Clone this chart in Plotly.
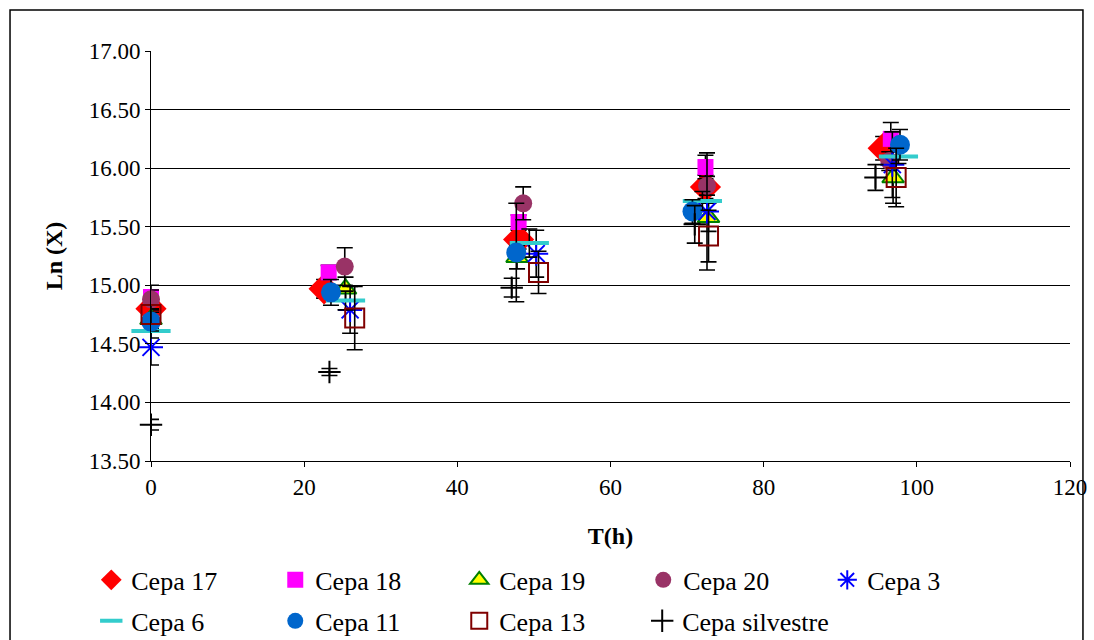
import plotly.graph_objects as go

names = ["Cepa 17", "Cepa 18", "Cepa 19", "Cepa 20", "Cepa 3",
         "Cepa 6", "Cepa 11", "Cepa 13", "Cepa silvestre"]

x_c17 = [0, 22.6, 48.0, 72.4, 95.6]
y_c17 = [14.80, 14.97, 15.39, 15.84, 16.17]
e_c17 = [0.10, 0.08, 0.08, 0.10, 0.10]

x_c18 = [0, 23.2, 48.0, 72.4, 96.6]
y_c18 = [14.90, 15.11, 15.54, 16.01, 16.25]
e_c18 = [0.10, 0.06, 0.06, 0.10, 0.14]

x_c19 = [0, 25.4, 47.8, 72.8, 96.9]
y_c19 = [14.71, 14.97, 15.24, 15.58, 15.92]
e_c19 = [0.08, 0.10, 0.10, 0.12, 0.22]

x_c20 = [0, 25.3, 48.6, 72.6, 96.4]
y_c20 = [14.88, 15.16, 15.70, 15.85, 16.06]
e_c20 = [0.08, 0.16, 0.14, 0.08, 0.08]

x_c3 = [0, 26.0, 50.3, 72.6, 96.8]
y_c3 = [14.47, 14.79, 15.27, 15.63, 16.03]
e_c3 = [0.15, 0.20, 0.20, 0.50, 0.28]

x_c6 = [0, 25.4, 49.4, 72.0, 97.6]
y_c6 = [14.61, 14.87, 15.36, 15.72, 16.10]
e_c6 = [0.06, 0.08, 0.12, 0.08, 0.06]

x_c11 = [0, 23.5, 47.7, 70.7, 97.8]
y_c11 = [14.69, 14.94, 15.28, 15.63, 16.20]
e_c11 = [0.08, 0.11, 0.42, 0.10, 0.13]

x_c13 = [0, 26.6, 50.6, 72.8, 97.3]
y_c13 = [14.75, 14.72, 15.11, 15.42, 15.92]
e_c13 = [0.08, 0.27, 0.18, 0.22, 0.25]

x_sil = [0, 23.3, 47.1, 71.0, 94.6]
y_sil = [13.81, 14.26, 14.98, 15.52, 15.92]
e_sil = [0.045, 0.03, 0.08, 0.16, 0.11]

x_ticks = [0, 20, 40, 60, 80, 100, 120]
y_ticks = [13.5, 14.0, 14.5, 15.0, 15.5, 16.0, 16.5, 17.0]

series = [
    (x_c17, y_c17, e_c17, dict(symbol="diamond", size=24, color="#FF0000")),
    (x_c18, y_c18, e_c18, dict(symbol="square", size=16, color="#FF00FF")),
    (x_c19, y_c19, e_c19, dict(symbol="triangle-up", size=19, color="#FFFF00",
                               line=dict(color="#008000", width=2))),
    (x_c20, y_c20, e_c20, dict(symbol="circle", size=18, color="#993366")),
    (x_c3, y_c3, e_c3, dict(symbol="asterisk-open", size=20, color="#0000FF",
                            line=dict(color="#0000FF", width=2))),
    (x_c6, y_c6, e_c6, dict(symbol="line-ew-open", size=28, color="#33CCCC",
                            line=dict(color="#33CCCC", width=4))),
    (x_c11, y_c11, e_c11, dict(symbol="circle", size=20, color="#0066CC")),
    (x_c13, y_c13, e_c13, dict(symbol="square-open", size=19, color="#800000",
                               line=dict(color="#800000", width=2))),
    (x_sil, y_sil, e_sil, dict(symbol="cross-thin-open", size=16, color="#000000",
                               line=dict(color="#000000", width=2))),
]

legend_ids = ["legend"] * 5 + ["legend2"] * 3 + ["legend3"]

fig = go.Figure()
for i, (xs, ys, es, mk) in enumerate(series):
    fig.add_trace(go.Scatter(
        x=xs, y=ys, mode="markers", name=names[i], marker=mk,
        error_y=dict(type="data", array=es, visible=True, color="black",
                     thickness=1.6, width=8),
        cliponaxis=False,
        legend=legend_ids[i],
    ))

font = "Liberation Serif"
leg_common = dict(orientation="h", font=dict(family=font, size=26, color="black"),
                  bgcolor="rgba(0,0,0,0)", xanchor="left", yanchor="middle",
                  itemclick=False)

fig.update_layout(
    width=1094, height=640,
    margin=dict(l=151, r=24, t=51, b=179, autoexpand=False),
    paper_bgcolor="white", plot_bgcolor="white",
    font=dict(family=font, color="black"),
    showlegend=True,
    legend=dict(x=-0.065, y=-0.290, entrywidth=139, entrywidthmode="pixels", **leg_common),
    legend2=dict(x=-0.065, y=-0.390, entrywidth=139, entrywidthmode="pixels", **leg_common),
    legend3=dict(x=0.5345, y=-0.390, **leg_common),
    xaxis=dict(range=[0, 120], tickvals=x_ticks, ticktext=[str(v) for v in x_ticks],
               showgrid=False, zeroline=False, showline=True, linecolor="black",
               linewidth=1, ticks="outside", ticklen=5, tickcolor="black",
               automargin=False,
               tickfont=dict(family=font, size=23),
               title=dict(text="<b>T(h)</b>", font=dict(family=font, size=24), standoff=28)),
    yaxis=dict(range=[13.5, 17.0], tickvals=y_ticks,
               ticktext=[f"{v:.2f}" for v in y_ticks],
               showgrid=True, gridcolor="black", gridwidth=1, zeroline=False,
               showline=True, linecolor="black", linewidth=1,
               ticks="outside", ticklen=5, tickcolor="black",
               automargin=False,
               tickfont=dict(family=font, size=23),
               title=dict(text="<b>Ln (X)</b>", font=dict(family=font, size=24), standoff=19)),
    shapes=[dict(type="rect", xref="paper", yref="paper",
                 x0=-0.1534, x1=1.0141, y0=-0.46, y1=1.1,
                 line=dict(color="black", width=1.5), fillcolor="rgba(0,0,0,0)",
                 layer="below")],
)

fig.write_html("out.html", config={"displayModeBar": False},
               post_script="document.body.style.margin='0px';")
